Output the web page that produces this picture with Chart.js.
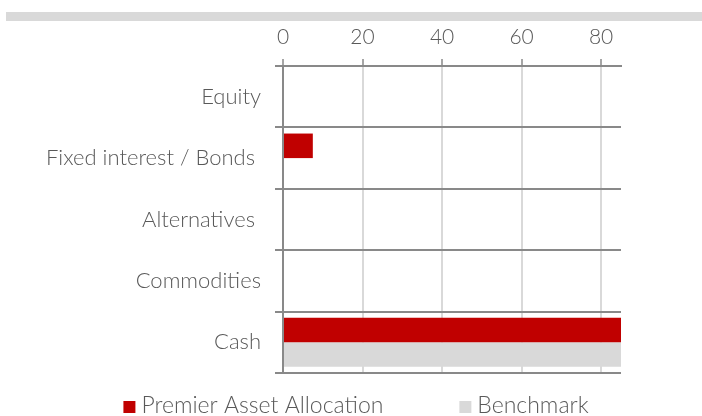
<!DOCTYPE html>
<html>
<head>
<meta charset="utf-8">
<script src="https://cdn.jsdelivr.net/npm/chart.js@4.4.1/dist/chart.umd.min.js"></script>
<style>
  html, body { margin: 0; padding: 0; background: #ffffff; }
  #wrap { position: relative; width: 702px; height: 416px; overflow: hidden; }
  #band { position: absolute; left: 6px; right: 0; top: 12px; height: 9px; background: #d9d9d9; z-index: 2; }
  canvas { position: absolute; left: 0; top: 0; }
</style>
</head>
<body>
<div id="wrap">
  <div id="band"></div>
  <canvas id="c" width="702" height="416"></canvas>
</div>
<script>
const categories = ["Equity", "Fixed interest / Bonds ", "Alternatives ", "Commodities", "Cash"];
const premierValues = [0, 7.5, 0, 0, 86];
const benchmarkValues = [0, 0, 0, 0, 86];
const seriesNames = ["Premier Asset Allocation", "Benchmark"];
const xTicks = [0, 20, 40, 60, 80];
const xMax = 85;

const FONT = "Lato";
const TEXT = "#595959";

const legendPlugin = {
  id: "customLegend",
  afterDraw(chart) {
    const ctx = chart.ctx;
    ctx.save();
    ctx.font = "300 23px " + FONT;
    ctx.textBaseline = "alphabetic";
    const box = 12, gapText = 6, gapItem = 76;
    const items = chart.data.datasets.map(d => ({
      label: d.label, color: d.backgroundColor,
      w: box + gapText + ctx.measureText(d.label).width
    }));
    const total = items.reduce((s, it) => s + it.w, 0) + gapItem * (items.length - 1);
    let x = 356 - total / 2;
    const baseY = 413;
    items.forEach(it => {
      ctx.fillStyle = it.color;
      ctx.fillRect(x, baseY - 12, box, box);
      ctx.fillStyle = TEXT;
      ctx.fillText(it.label, x + box + gapText, baseY);
      x += it.w + gapItem;
    });
    ctx.restore();
  }
};

new Chart(document.getElementById("c"), {
  type: "bar",
  data: {
    labels: categories,
    datasets: [
      { label: seriesNames[0], data: premierValues, backgroundColor: "#c00000", categoryPercentage: 0.8, barPercentage: 1.0 },
      { label: seriesNames[1], data: benchmarkValues, backgroundColor: "#d9d9d9", categoryPercentage: 0.8, barPercentage: 1.0 }
    ]
  },
  options: {
    indexAxis: "y",
    responsive: false,
    animation: false,
    devicePixelRatio: 1,
    layout: { padding: { left: 0, right: 81, top: 0, bottom: 43 } },
    plugins: { legend: { display: false }, tooltip: { enabled: false } },
    scales: {
      x: {
        position: "top",
        min: 0, max: xMax,
        afterFit(s) { s.height = 66; },
        afterBuildTicks(s) { s.ticks = xTicks.map(v => ({ value: v })); },
        ticks: { includeBounds: false, stepSize: 20, color: TEXT, font: { family: FONT, size: 21, weight: "300" }, padding: 9 },
        grid: { color: "#d9d9d9", lineWidth: 2, tickColor: "#898989", tickLength: 7, tickWidth: 1.5, drawOnChartArea: true },
        border: { color: "#898989", width: 2 }
      },
      y: {
        afterFit(s) { s.width = 283; },
        ticks: { color: TEXT, font: { family: FONT, size: 22, weight: "300" }, padding: 14 },
        grid: { offset: true, color: "#898989", lineWidth: 2, tickColor: "#898989", tickLength: 8 },
        border: { color: "#898989", width: 2 }
      }
    }
  },
  plugins: [legendPlugin]
});
</script>
</body>
</html>
